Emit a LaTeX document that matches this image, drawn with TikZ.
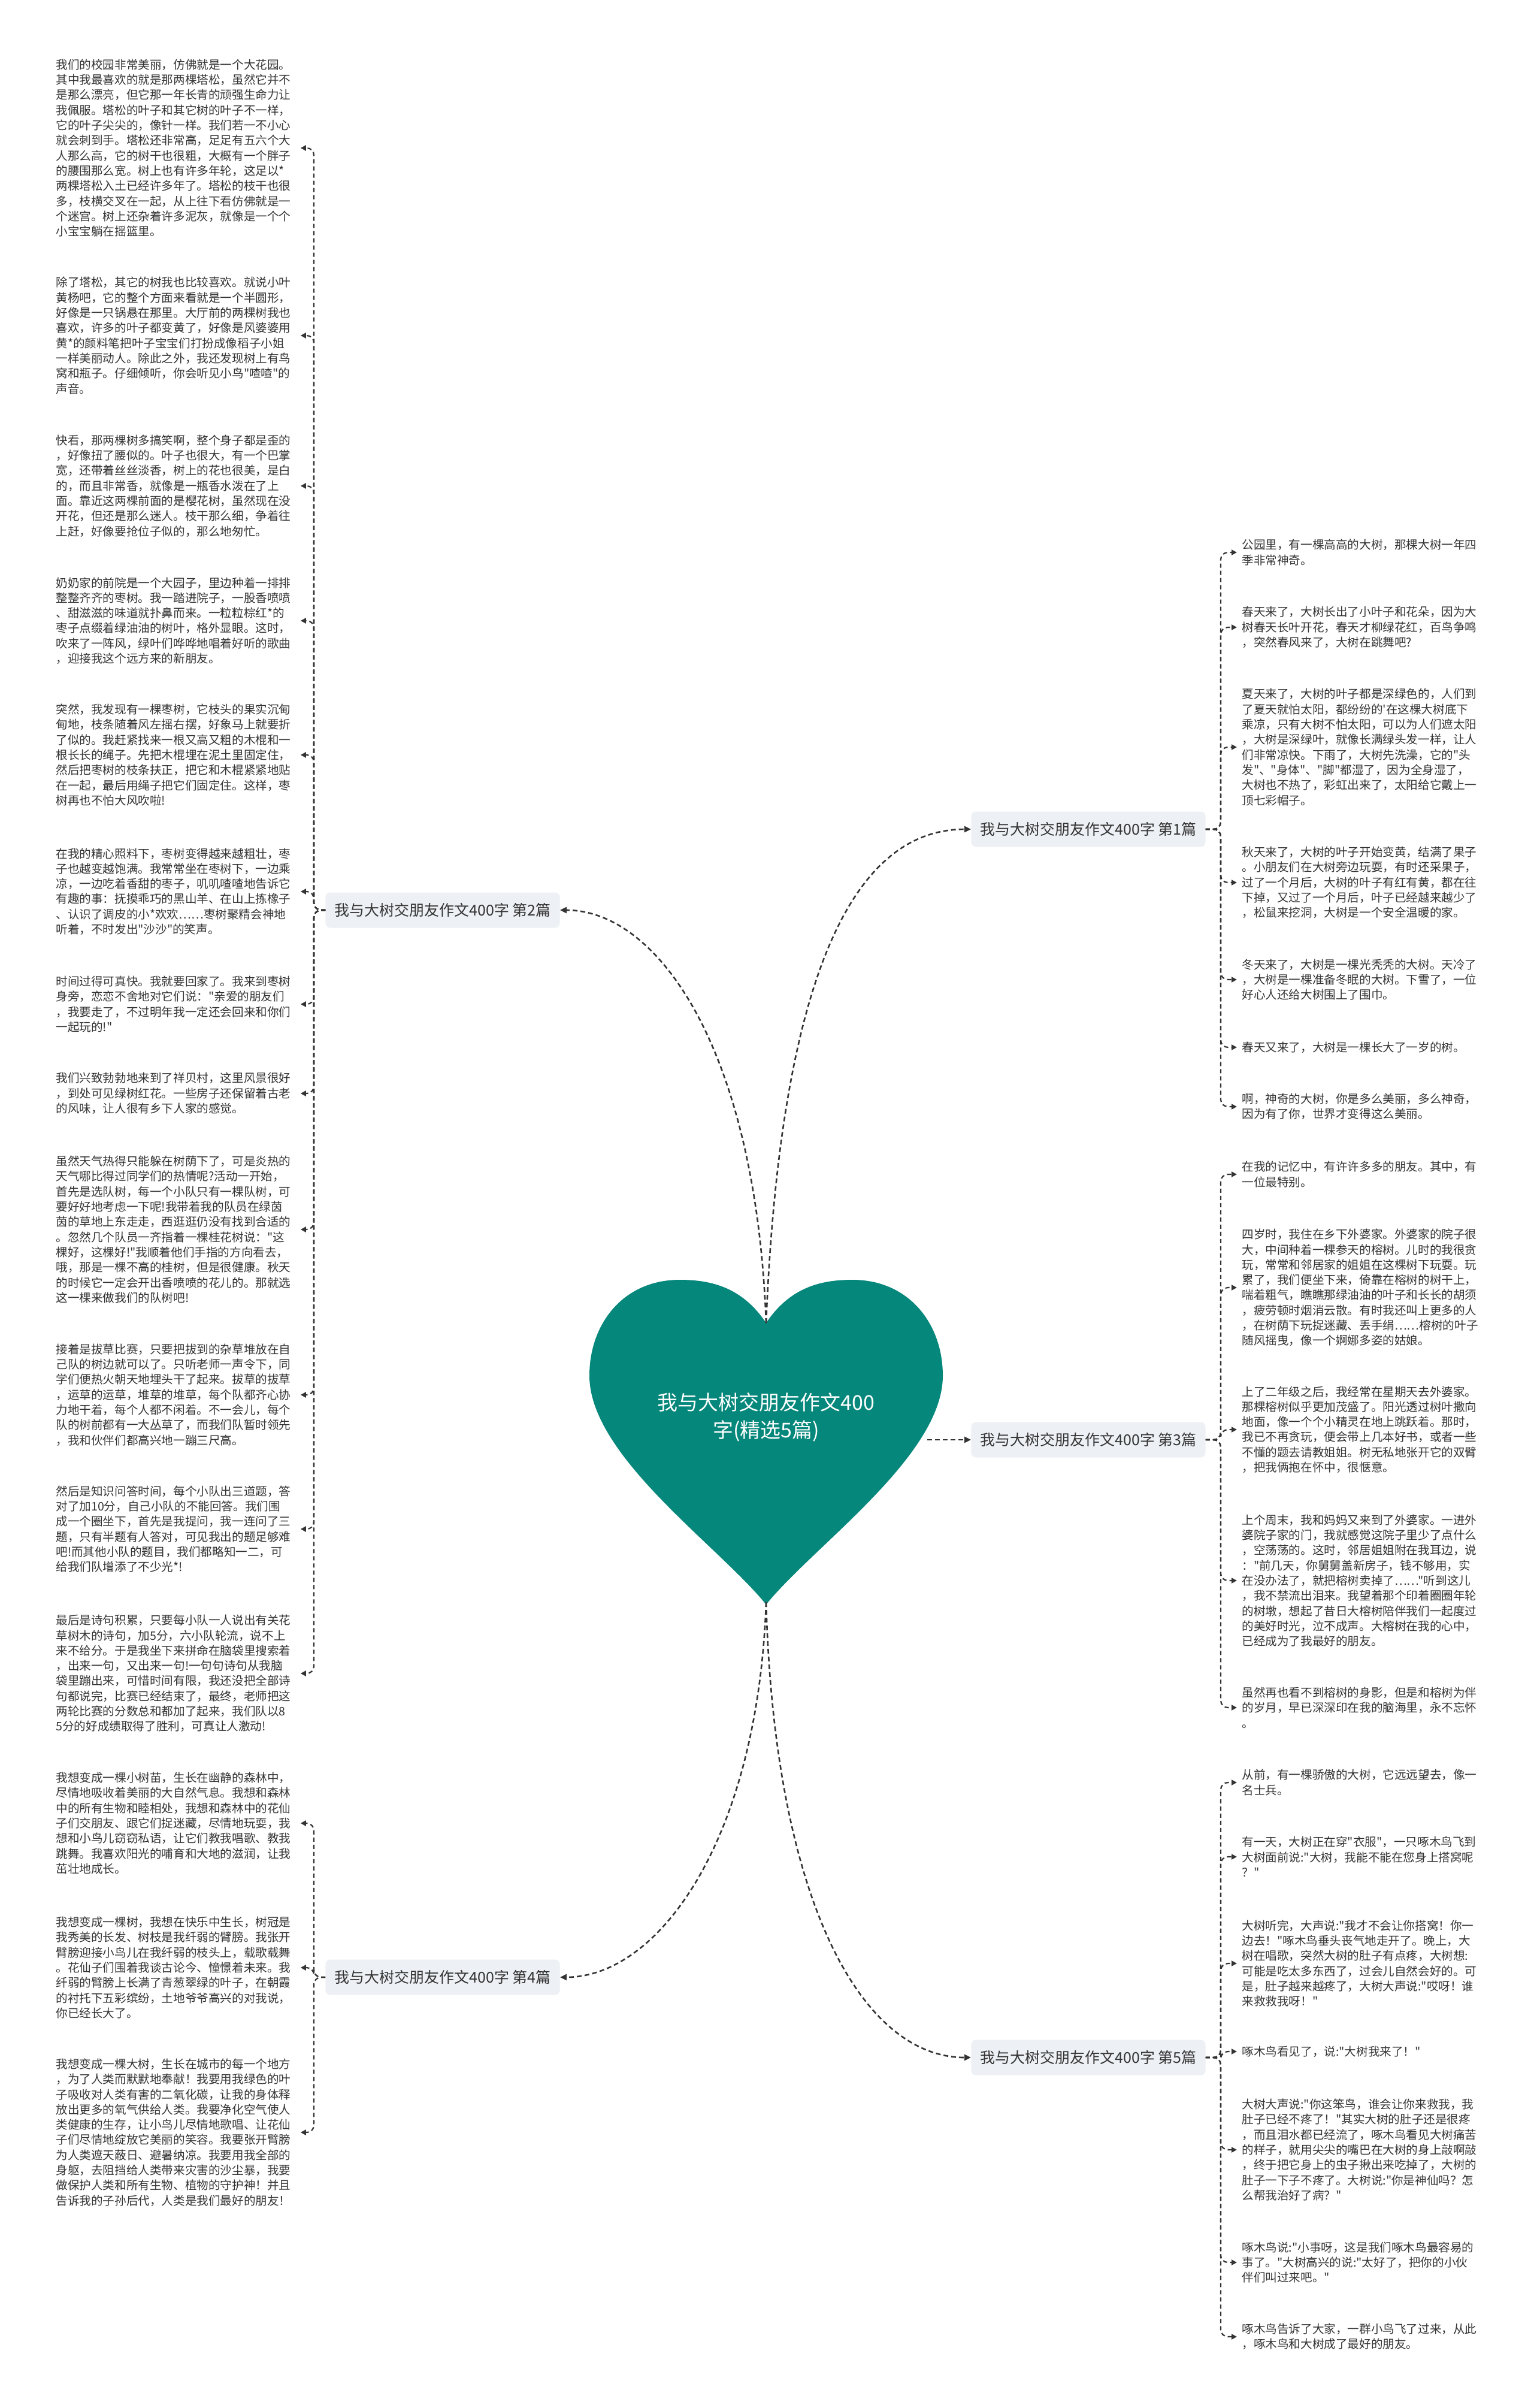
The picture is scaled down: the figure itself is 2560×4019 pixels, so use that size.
\documentclass[tikz,border=0pt]{standalone}
\usepackage{fontspec}
\newfontfamily\cjkfont{Noto Sans CJK SC}
\usetikzlibrary{arrows.meta}
\definecolor{heartgreen}{HTML}{06877B}
\definecolor{boxgray}{HTML}{EDF0F4}
\definecolor{inkgray}{HTML}{333333}

\begin{document}
\begin{tikzpicture}[
x=0.5pt, y=-0.5pt,
leaf/.style={anchor=west, align=left, text width=200pt, inner xsep=4pt, inner ysep=2pt, text=inkgray, font=\cjkfont\fontsize{9.8}{12.65}\selectfont},
topic/.style={rectangle, rounded corners=4pt, fill=boxgray, text=inkgray, inner xsep=7.5pt, minimum height=29.5pt, font=\cjkfont\fontsize{12.5}{15}\selectfont},
line/.style={draw=inkgray, line width=1.3pt, dash pattern=on 4pt off 2.5pt, -{Triangle[length=5.5pt,width=5pt]}},
twig/.style={draw=inkgray, line width=1.1pt, dash pattern=on 3.5pt off 2.5pt, rounded corners=6pt, -{Triangle[length=4.5pt,width=4.5pt]}}
]

\fill[white] (0,0) rectangle (2560,4019);
\useasboundingbox (0,0) rectangle (2560,4019);

\fill[heartgreen] (1279,2208) .. controls (1240,2150) and (1190,2136) .. (1135,2136)
  .. controls (1040,2136) and (984,2210) .. (984,2296)
  .. controls (984,2430) and (1200,2580) .. (1279,2678)
  .. controls (1358,2580) and (1574,2430) .. (1574,2296)
  .. controls (1574,2210) and (1518,2136) .. (1423,2136)
  .. controls (1368,2136) and (1318,2150) .. (1279,2208) -- cycle;
\node[text=white, align=center, font=\cjkfont\fontsize{17}{23}\selectfont] (root) at (1279,2365) {我与大树交朋友作文400\\字(精选5篇)};
\coordinate (notch) at (1279,2208);
\coordinate (tip) at (1279,2674);
\coordinate (side) at (1548,2403);

\node[topic] (b1) at (1817,1384) {我与大树交朋友作文400字 第1篇};
\node[topic] (b2) at (739,1519) {我与大树交朋友作文400字 第2篇};
\node[topic] (b3) at (1817,2403) {我与大树交朋友作文400字 第3篇};
\node[topic] (b4) at (739,3300) {我与大树交朋友作文400字 第4篇};
\node[topic] (b5) at (1817,3434) {我与大树交朋友作文400字 第5篇};

\node[leaf] (l1) at (85,247) {我们的校园非常美丽，仿佛就是一个大花园。\\其中我最喜欢的就是那两棵塔松，虽然它并不\\是那么漂亮，但它那一年长青的顽强生命力让\\我佩服。塔松的叶子和其它树的叶子不一样，\\它的叶子尖尖的，像针一样。我们若一不小心\\就会刺到手。塔松还非常高，足足有五六个大\\人那么高，它的树干也很粗，大概有一个胖子\\的腰围那么宽。树上也有许多年轮，这足以*\\两棵塔松入土已经许多年了。塔松的枝干也很\\多，枝横交叉在一起，从上往下看仿佛就是一\\个迷宫。树上还杂着许多泥灰，就像是一个个\\小宝宝躺在摇篮里。};
\node[leaf] (l2) at (85,560) {除了塔松，其它的树我也比较喜欢。就说小叶\\黄杨吧，它的整个方面来看就是一个半圆形，\\好像是一只锅悬在那里。大厅前的两棵树我也\\喜欢，许多的叶子都变黄了，好像是风婆婆用\\黄*的颜料笔把叶子宝宝们打扮成像稻子小姐\\一样美丽动人。除此之外，我还发现树上有鸟\\窝和瓶子。仔细倾听，你会听见小鸟"喳喳"的\\声音。};
\node[leaf] (l3) at (85,811) {快看，那两棵树多搞笑啊，整个身子都是歪的\\，好像扭了腰似的。叶子也很大，有一个巴掌\\宽，还带着丝丝淡香，树上的花也很美，是白\\*的，而且非常香，就像是一瓶香水泼在了上\\面。靠近这两棵前面的是樱花树，虽然现在没\\开花，但还是那么迷人。枝干那么细，争着往\\上赶，好像要抢位子似的，那么地匆忙。};
\node[leaf] (l4) at (85,1036) {奶奶家的前院是一个大园子，里边种着一排排\\整整齐齐的枣树。我一踏进院子，一股香喷喷\\、甜滋滋的味道就扑鼻而来。一粒粒棕红*的\\枣子点缀着绿油油的树叶，格外显眼。这时，\\吹来了一阵风，绿叶们哗哗地唱着好听的歌曲\\，迎接我这个远方来的新朋友。};
\node[leaf] (l5) at (85,1260) {突然，我发现有一棵枣树，它枝头的果实沉甸\\甸地，枝条随着风左摇右摆，好象马上就要折\\了似的。我赶紧找来一根又高又粗的木棍和一\\根长长的绳子。先把木棍埋在泥土里固定住，\\然后把枣树的枝条扶正，把它和木棍紧紧地贴\\在一起，最后用绳子把它们固定住。这样，枣\\树再也不怕大风吹啦!};
\node[leaf] (l6) at (85,1488) {在我的精心照料下，枣树变得越来越粗壮，枣\\子也越变越饱满。我常常坐在枣树下，一边乘\\凉，一边吃着香甜的枣子，叽叽喳喳地告诉它\\有趣的事：抚摸乖巧的黑山羊、在山上拣橡子\\、认识了调皮的小*欢欢……枣树聚精会神地\\听着，不时发出"沙沙"的笑声。};
\node[leaf] (l7) at (85,1676) {时间过得可真快。我就要回家了。我来到枣树\\身旁，恋恋不舍地对它们说："亲爱的朋友们\\，我要走了，不过明年我一定还会回来和你们\\一起玩的!"};
\node[leaf] (l8) at (85,1825) {我们兴致勃勃地来到了祥贝村，这里风景很好\\，到处可见绿树红花。一些房子还保留着古老\\的风味，让人很有乡下人家的感觉。};
\node[leaf] (l9) at (85,2052) {虽然天气热得只能躲在树荫下了，可是炎热的\\天气哪比得过同学们的热情呢?活动一开始，\\首先是选队树，每一个小队只有一棵队树，可\\要好好地考虑一下呢!我带着我的队员在绿茵\\茵的草地上东走走，西逛逛仍没有找到合适的\\。忽然几个队员一齐指着一棵桂花树说："这\\棵好，这棵好!"我顺着他们手指的方向看去，\\哦，那是一棵不高的桂树，但是很健康。秋天\\的时候它一定会开出香喷喷的花儿的。那就选\\这一棵来做我们的队树吧!};
\node[leaf] (l10) at (85,2328) {接着是拔草比赛，只要把拔到的杂草堆放在自\\己队的树边就可以了。只听老师一声令下，同\\学们便热火朝天地埋头干了起来。拔草的拔草\\，运草的运草，堆草的堆草，每个队都齐心协\\力地干着，每个人都不闲着。不一会儿，每个\\队的树前都有一大丛草了，而我们队暂时领先\\，我和伙伴们都高兴地一蹦三尺高。};
\node[leaf] (l11) at (85,2552) {然后是知识问答时间，每个小队出三道题，答\\对了加10分，自己小队的不能回答。我们围\\成一个圈坐下，首先是我提问，我一连问了三\\题，只有半题有人答对，可见我出的题足够难\\吧!而其他小队的题目，我们都略知一二，可\\给我们队增添了不少光*!};
\node[leaf] (l12) at (85,2793) {最后是诗句积累，只要每小队一人说出有关花\\草树木的诗句，加5分，六小队轮流，说不上\\来不给分。于是我坐下来拼命在脑袋里搜索着\\，出来一句，又出来一句!一句句诗句从我脑\\袋里蹦出来，可惜时间有限，我还没把全部诗\\句都说完，比赛已经结束了，最终，老师把这\\两轮比赛的分数总和都加了起来，我们队以8\\5分的好成绩取得了胜利，可真让人激动!};
\node[leaf] (l13) at (85,3043) {我想变成一棵小树苗，生长在幽静的森林中，\\尽情地吸收着美丽的大自然气息。我想和森林\\中的所有生物和睦相处，我想和森林中的花仙\\子们交朋友、跟它们捉迷藏，尽情地玩耍，我\\想和小鸟儿窃窃私语，让它们教我唱歌、教我\\跳舞。我喜欢阳光的哺育和大地的滋润，让我\\茁壮地成长。};
\node[leaf] (l14) at (85,3284) {我想变成一棵树，我想在快乐中生长，树冠是\\我秀美的长发、树枝是我纤弱的臂膀。我张开\\臂膀迎接小鸟儿在我纤弱的枝头上，载歌载舞\\。花仙子们围着我谈古论今、憧憬着未来。我\\纤弱的臂膀上长满了青葱翠绿的叶子，在朝霞\\的衬托下五彩缤纷，土地爷爷高兴的对我说，\\你已经长大了。};
\node[leaf] (l15) at (85,3559) {我想变成一棵大树，生长在城市的每一个地方\\，为了人类而默默地奉献！我要用我绿色的叶\\子吸收对人类有害的二氧化碳，让我的身体释\\放出更多的氧气供给人类。我要净化空气使人\\类健康的生存，让小鸟儿尽情地歌唱、让花仙\\子们尽情地绽放它美丽的笑容。我要张开臂膀\\为人类遮天蔽日、避暑纳凉。我要用我全部的\\身躯，去阻挡给人类带来灾害的沙尘暴，我要\\做保护人类和所有生物、植物的守护神！并且\\告诉我的子孙后代，人类是我们最好的朋友！};

\node[leaf] (r1) at (2065,922) {公园里，有一棵高高的大树，那棵大树一年四\\季非常神奇。};
\node[leaf] (r2) at (2065,1047) {春天来了，大树长出了小叶子和花朵，因为大\\树春天长叶开花，春天才柳绿花红，百鸟争鸣\\，突然春风来了，大树在跳舞吧?};
\node[leaf] (r3) at (2065,1247) {夏天来了，大树的叶子都是深绿色的，人们到\\了夏天就怕太阳，都纷纷的'在这棵大树底下\\乘凉，只有大树不怕太阳，可以为人们遮太阳\\，大树是深绿叶，就像长满绿头发一样，让人\\们非常凉快。下雨了，大树先洗澡，它的"头\\发"、"身体"、"脚"都湿了，因为全身湿了，\\大树也不热了，彩虹出来了，太阳给它戴上一\\顶七彩帽子。};
\node[leaf] (r4) at (2065,1473) {秋天来了，大树的叶子开始变黄，结满了果子\\。小朋友们在大树旁边玩耍，有时还采果子，\\过了一个月后，大树的叶子有红有黄，都在往\\下掉，又过了一个月后，叶子已经越来越少了\\，松鼠来挖洞，大树是一个安全温暖的家。};
\node[leaf] (r5) at (2065,1635) {冬天来了，大树是一棵光秃秃的大树。天冷了\\，大树是一棵准备冬眠的大树。下雪了，一位\\好心人还给大树围上了围巾。};
\node[leaf] (r6) at (2065,1748) {春天又来了，大树是一棵长大了一岁的树。};
\node[leaf] (r7) at (2065,1847) {啊，神奇的大树，你是多么美丽，多么神奇，\\因为有了你，世界才变得这么美丽。};
\node[leaf] (r8) at (2065,1960) {在我的记忆中，有许许多多的朋友。其中，有\\一位最特别。};
\node[leaf] (r9) at (2065,2149) {四岁时，我住在乡下外婆家。外婆家的院子很\\大，中间种着一棵参天的榕树。儿时的我很贪\\玩，常常和邻居家的姐姐在这棵树下玩耍。玩\\累了，我们便坐下来，倚靠在榕树的树干上，\\喘着粗气，瞧瞧那绿油油的叶子和长长的胡须\\，疲劳顿时烟消云散。有时我还叫上更多的人\\，在树荫下玩捉迷藏、丢手绢……榕树的叶子\\随风摇曳，像一个婀娜多姿的姑娘。};
\node[leaf] (r10) at (2065,2386) {上了二年级之后，我经常在星期天去外婆家。\\那棵榕树似乎更加茂盛了。阳光透过树叶撒向\\地面，像一个个小精灵在地上跳跃着。那时，\\我已不再贪玩，便会带上几本好书，或者一些\\不懂的题去请教姐姐。树无私地张开它的双臂\\，把我俩抱在怀中，很惬意。};
\node[leaf] (r11) at (2065,2638) {上个周末，我和妈妈又来到了外婆家。一进外\\婆院子家的门，我就感觉这院子里少了点什么\\，空荡荡的。这时，邻居姐姐附在我耳边，说\\："前几天，你舅舅盖新房子，钱不够用，实\\在没办法了，就把榕树卖掉了……"听到这儿\\，我不禁流出泪来。我望着那个印着圈圈年轮\\的树墩，想起了昔日大榕树陪伴我们一起度过\\的美好时光，泣不成声。大榕树在我的心中，\\已经成为了我最好的朋友。};
\node[leaf] (r12) at (2065,2850) {虽然再也看不到榕树的身影，但是和榕树为伴\\的岁月，早已深深印在我的脑海里，永不忘怀\\。};
\node[leaf] (r13) at (2065,2975) {从前，有一棵骄傲的大树，它远远望去，像一\\名士兵。};
\node[leaf] (r14) at (2065,3099) {有一天，大树正在穿"衣服"，一只啄木鸟飞到\\大树面前说:"大树，我能不能在您身上搭窝呢\\？"};
\node[leaf] (r15) at (2065,3277) {大树听完，大声说:"我才不会让你搭窝！你一\\边去！"啄木鸟垂头丧气地走开了。晚上，大\\树在唱歌，突然大树的肚子有点疼，大树想:\\可能是吃太多东西了，过会儿自然会好的。可\\是，肚子越来越疼了，大树大声说:"哎呀！谁\\来救救我呀！"};
\node[leaf] (r16) at (2065,3424) {啄木鸟看见了，说:"大树我来了！"};
\node[leaf] (r17) at (2065,3588) {大树大声说:"你这笨鸟，谁会让你来救我，我\\肚子已经不疼了！"其实大树的肚子还是很疼\\，而且泪水都已经流了，啄木鸟看见大树痛苦\\的样子，就用尖尖的嘴巴在大树的身上敲啊敲\\，终于把它身上的虫子揪出来吃掉了，大树的\\肚子一下子不疼了。大树说:"你是神仙吗？怎\\么帮我治好了病？"};
\node[leaf] (r18) at (2065,3776) {啄木鸟说:"小事呀，这是我们啄木鸟最容易的\\事了。"大树高兴的说:"太好了，把你的小伙\\伴们叫过来吧。"};
\node[leaf] (r19) at (2065,3900) {啄木鸟告诉了大家，一群小鸟飞了过来，从此\\，啄木鸟和大树成了最好的朋友。};

\draw[line] (notch) .. controls +(21,-508) and +(-222,0) .. (b1.west);
\draw[line] (notch) .. controls +(-17,-458) and +(163,0) .. (b2.east);
\draw[line] (side) -- (b3.west);
\draw[line] (tip) .. controls +(-14,400) and +(163,0) .. (b4.east);
\draw[line] (tip) .. controls +(14,500) and +(-182,0) .. (b5.west);

\draw[twig] (b2.west) -- ++(-19,0) |- (l1.east);
\draw[twig] (b2.west) -- ++(-19,0) |- (l2.east);
\draw[twig] (b2.west) -- ++(-19,0) |- (l3.east);
\draw[twig] (b2.west) -- ++(-19,0) |- (l4.east);
\draw[twig] (b2.west) -- ++(-19,0) |- (l5.east);
\draw[twig] (b2.west) -- ++(-19,0) |- (l6.east);
\draw[twig] (b2.west) -- ++(-19,0) |- (l7.east);
\draw[twig] (b2.west) -- ++(-19,0) |- (l8.east);
\draw[twig] (b2.west) -- ++(-19,0) |- (l9.east);
\draw[twig] (b2.west) -- ++(-19,0) |- (l10.east);
\draw[twig] (b2.west) -- ++(-19,0) |- (l11.east);
\draw[twig] (b2.west) -- ++(-19,0) |- (l12.east);
\draw[twig] (b4.west) -- ++(-19,0) |- (l13.east);
\draw[twig] (b4.west) -- ++(-19,0) |- (l14.east);
\draw[twig] (b4.west) -- ++(-19,0) |- (l15.east);

\draw[twig] (b1.east) -- ++(25,0) |- (r1.west);
\draw[twig] (b1.east) -- ++(25,0) |- (r2.west);
\draw[twig] (b1.east) -- ++(25,0) |- (r3.west);
\draw[twig] (b1.east) -- ++(25,0) |- (r4.west);
\draw[twig] (b1.east) -- ++(25,0) |- (r5.west);
\draw[twig] (b1.east) -- ++(25,0) |- (r6.west);
\draw[twig] (b1.east) -- ++(25,0) |- (r7.west);
\draw[twig] (b3.east) -- ++(25,0) |- (r8.west);
\draw[twig] (b3.east) -- ++(25,0) |- (r9.west);
\draw[twig] (b3.east) -- ++(25,0) |- (r10.west);
\draw[twig] (b3.east) -- ++(25,0) |- (r11.west);
\draw[twig] (b3.east) -- ++(25,0) |- (r12.west);
\draw[twig] (b5.east) -- ++(25,0) |- (r13.west);
\draw[twig] (b5.east) -- ++(25,0) |- (r14.west);
\draw[twig] (b5.east) -- ++(25,0) |- (r15.west);
\draw[twig] (b5.east) -- ++(25,0) |- (r16.west);
\draw[twig] (b5.east) -- ++(25,0) |- (r17.west);
\draw[twig] (b5.east) -- ++(25,0) |- (r18.west);
\draw[twig] (b5.east) -- ++(25,0) |- (r19.west);

\end{tikzpicture}
\end{document}
